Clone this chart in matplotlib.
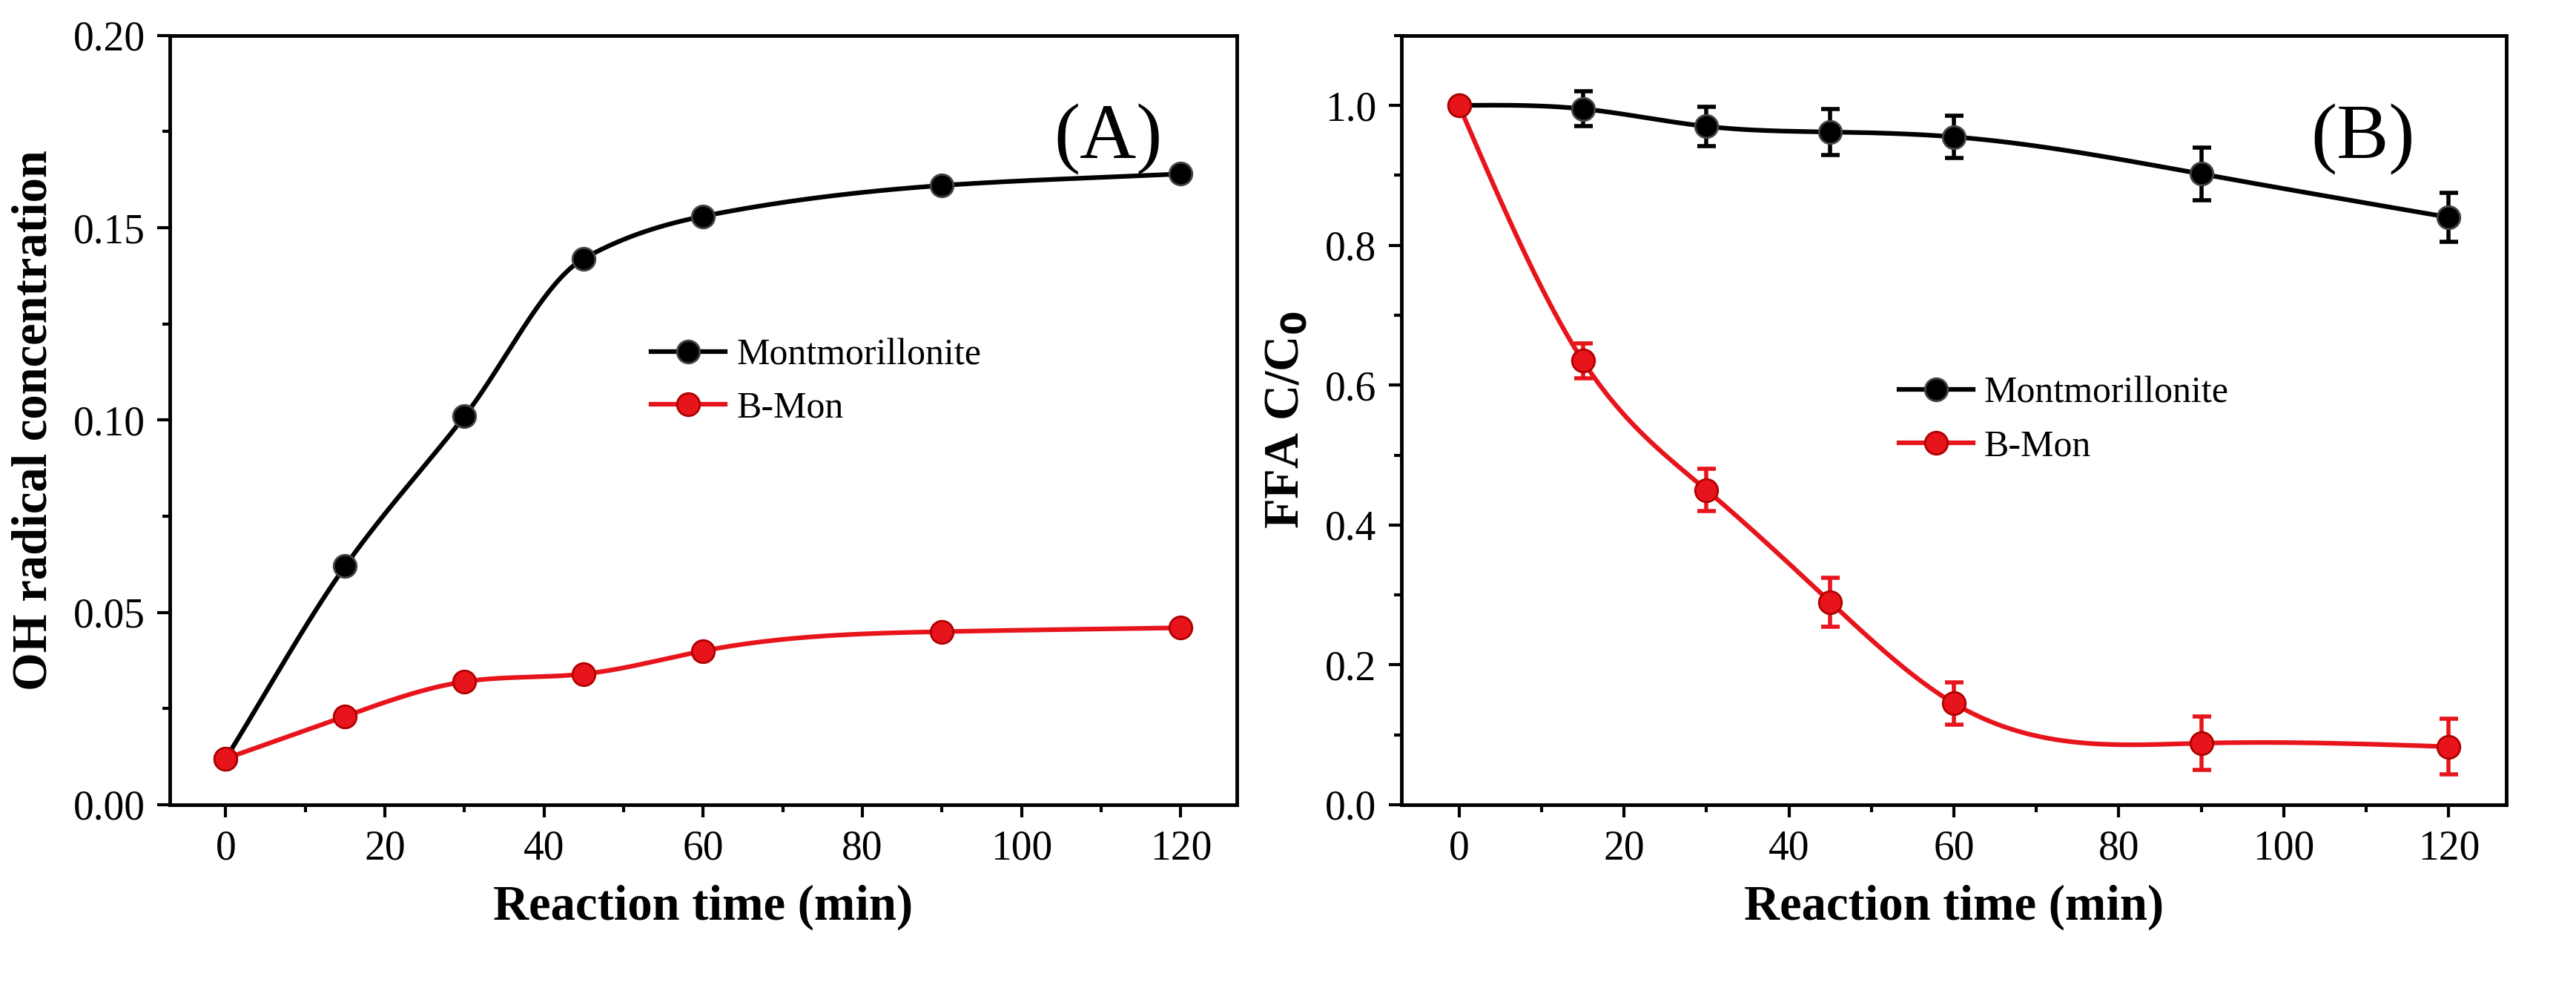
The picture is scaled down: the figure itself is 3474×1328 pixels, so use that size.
import numpy as np
import matplotlib
matplotlib.use("Agg")
import matplotlib.pyplot as plt
from matplotlib.ticker import MultipleLocator, FormatStrFormatter

plt.rcParams["font.family"] = ["Liberation Serif", "DejaVu Serif"]

time = [0, 15, 30, 45, 60, 90, 120]
oh_mont = [0.012, 0.062, 0.101, 0.142, 0.153, 0.161, 0.164]
oh_bmon = [0.012, 0.023, 0.032, 0.034, 0.040, 0.045, 0.046]
ffa_mont = [1.0, 0.995, 0.970, 0.962, 0.955, 0.902, 0.840]
ffa_mont_err = [0.0, 0.025, 0.028, 0.033, 0.030, 0.038, 0.035]
ffa_bmon = [1.0, 0.635, 0.450, 0.290, 0.145, 0.088, 0.083]
ffa_bmon_err = [0.0, 0.025, 0.030, 0.035, 0.030, 0.038, 0.040]


def pchip(x, y, n=400):
    """Monotone cubic curve through the points."""
    x = np.asarray(x, float)
    y = np.asarray(y, float)
    h = np.diff(x)
    d = np.diff(y) / h
    m = np.zeros_like(y)
    for k in range(1, len(x) - 1):
        if d[k - 1] * d[k] > 0:
            w1 = 2 * h[k] + h[k - 1]
            w2 = h[k] + 2 * h[k - 1]
            m[k] = (w1 + w2) / (w1 / d[k - 1] + w2 / d[k])
    m[0] = d[0]
    m[-1] = d[-1]
    return hermite(x, y, m, n)


def natural_spline(x, y, n=400):
    """Natural cubic spline through the points (smoother line)."""
    x = np.asarray(x, float)
    y = np.asarray(y, float)
    N = len(x)
    h = np.diff(x)
    A = np.zeros((N, N))
    b = np.zeros(N)
    A[0, 0] = 2
    A[0, 1] = 1
    b[0] = 3 * (y[1] - y[0]) / h[0]
    A[-1, -2] = 1
    A[-1, -1] = 2
    b[-1] = 3 * (y[-1] - y[-2]) / h[-1]
    for i in range(1, N - 1):
        A[i, i - 1] = 1 / h[i - 1]
        A[i, i] = 2 * (1 / h[i - 1] + 1 / h[i])
        A[i, i + 1] = 1 / h[i]
        b[i] = 3 * ((y[i] - y[i - 1]) / h[i - 1] ** 2 + (y[i + 1] - y[i]) / h[i] ** 2)
    m = np.linalg.solve(A, b)
    return hermite(x, y, m, n)


def hermite(x, y, m, n):
    h = np.diff(x)
    xs = np.linspace(x[0], x[-1], n)
    idx = np.clip(np.searchsorted(x, xs) - 1, 0, len(x) - 2)
    t = (xs - x[idx]) / h[idx]
    h00 = 2 * t**3 - 3 * t**2 + 1
    h10 = t**3 - 2 * t**2 + t
    h01 = -2 * t**3 + 3 * t**2
    h11 = t**3 - t**2
    ys = h00 * y[idx] + h10 * h[idx] * m[idx] + h01 * y[idx + 1] + h11 * h[idx] * m[idx + 1]
    return xs, ys


def style_axes(ax):
    for s in ax.spines.values():
        s.set_linewidth(3.5)
    ax.tick_params(which="major", length=12, width=3, labelsize=40, direction="out", pad=12)
    ax.tick_params(which="minor", length=7, width=3, direction="out")
    ax.xaxis.set_major_locator(MultipleLocator(20))
    ax.xaxis.set_minor_locator(MultipleLocator(10))
    ax.set_xlim(-7, 127)
    ax.set_xlabel("Reaction time (min)", fontsize=48, fontweight="bold", labelpad=16)


def series(ax, y, color, label, smooth, err=None):
    xs, ys = smooth(time, y)
    ax.plot(xs, ys, color=color, lw=4.5, zorder=2)
    if err is not None:
        ax.errorbar(time, y, yerr=err, fmt="none", ecolor=color, elinewidth=4,
                    capsize=9, capthick=4, zorder=3)
    edge = "#444444" if color == "black" else "#b00000"
    ax.plot(time, y, "o", color=color, ms=22, mec=edge, mew=2, zorder=4)
    ax.plot([], [], "-o", color=color, lw=4.5, ms=22, mec=edge, mew=2, label=label)


fig = plt.figure(figsize=(34.74, 13.28), dpi=100)
ax1 = fig.add_axes([0.066, 0.183, 0.414, 0.781])
ax2 = fig.add_axes([0.544, 0.183, 0.429, 0.781])

series(ax1, oh_mont, "black", "Montmorillonite", pchip)
series(ax1, oh_bmon, "#e8141c", "B-Mon", natural_spline)
style_axes(ax1)
ax1.set_ylim(0, 0.2)
ax1.yaxis.set_major_locator(MultipleLocator(0.05))
ax1.yaxis.set_minor_locator(MultipleLocator(0.025))
ax1.yaxis.set_major_formatter(FormatStrFormatter("%.2f"))
ax1.set_ylabel("OH radical concentration", fontsize=48, fontweight="bold", labelpad=16)
ax1.text(0.88, 0.84, "(A)", transform=ax1.transAxes, fontsize=76, ha="center")
ax1.legend(loc="center left", bbox_to_anchor=(0.42, 0.55), frameon=False, fontsize=36,
           handlelength=2.0, labelspacing=0.5, handletextpad=0.3)

series(ax2, ffa_mont, "black", "Montmorillonite", natural_spline, ffa_mont_err)
series(ax2, ffa_bmon, "#e8141c", "B-Mon", natural_spline, ffa_bmon_err)
style_axes(ax2)
ax2.set_ylim(0, 1.1)
ax2.yaxis.set_major_locator(MultipleLocator(0.2))
ax2.yaxis.set_minor_locator(MultipleLocator(0.1))
ax2.yaxis.set_major_formatter(FormatStrFormatter("%.1f"))
ax2.set_ylabel("FFA C/C$_\\mathbf{0}$", fontsize=48, fontweight="bold", labelpad=16)
ax2.text(0.87, 0.84, "(B)", transform=ax2.transAxes, fontsize=76, ha="center")
ax2.legend(loc="center left", bbox_to_anchor=(0.42, 0.50), frameon=False, fontsize=36,
           handlelength=2.0, labelspacing=0.5, handletextpad=0.3)

fig.savefig("out.png", dpi=100)
